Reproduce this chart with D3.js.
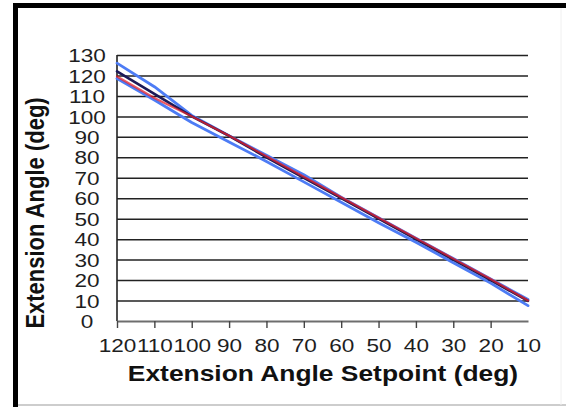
<!DOCTYPE html>
<html><head><meta charset="utf-8">
<script src="https://cdn.jsdelivr.net/npm/d3@7"></script>
<style>
html,body{margin:0;padding:0;background:#fff;}
svg{display:block;font-family:"Liberation Sans",Arial,sans-serif;}
</style></head>
<body>
<svg id="chart" width="566" height="407"></svg>
<script>
// ---- data ----
const setpoints = [120,110,100,90,80,70,60,50,40,30,20,10];
const meanAngle  = [122,111,100,90.5,80,70,60,50,40,30,20,9.8];
const redAngle   = [119.5,109,100,90.5,80.5,70.5,60.5,50.5,40.5,30.5,20.5,10];
const upperAngle = [126,114.5,100.5,90.5,81,71.5,60.5,50.5,40.5,30.5,20.5,10.5];
const lowerAngle = [118.5,108,97,87.5,78,68,58,48,38.5,28.5,18.5,7.5];
const yTicks = [0,10,20,30,40,50,60,70,80,90,100,110,120,130];
const xLabel = "Extension Angle Setpoint (deg)";
const yLabel = "Extension Angle (deg)";

const svg = d3.select("#chart");
const W = 566, H = 407;
const stretch = 1.22;
const tickFont = 18.5;

// frame
svg.append("rect").attr("x",0).attr("y",0).attr("width",W).attr("height",H).attr("fill","#fff");
svg.append("line").attr("x1",18).attr("x2",W).attr("y1",405).attr("y2",405).attr("stroke","#bdbdbd").attr("stroke-width",1.5);
svg.append("line").attr("x1",561).attr("x2",561).attr("y1",8).attr("y2",405).attr("stroke","#f0f0f0").attr("stroke-width",1);
svg.append("rect").attr("x",13).attr("y",3).attr("width",5).attr("height",H-3).attr("fill","#000");
svg.append("rect").attr("x",13).attr("y",3).attr("width",W-13).attr("height",5).attr("fill","#000");

const x = d3.scaleLinear().domain([120,10]).range([117,528]);
const y = d3.scaleLinear().domain([0,130]).range([321,55]);

// gridlines + y axis
const gy = svg.append("g").attr("transform","translate(117,0)")
  .call(d3.axisLeft(y).tickValues(yTicks).tickSize(-(528-117)).tickFormat(d3.format("d")));
gy.select(".domain").remove();
gy.selectAll(".tick line").attr("stroke","#222").attr("stroke-width",1.5)
  .filter(d=>d===0).remove();
gy.selectAll(".tick text").attr("x",-30/stretch).attr("dy","0.36em")
  .attr("text-anchor","middle").attr("transform",`scale(${stretch},1)`)
  .attr("font-size",tickFont).attr("fill","#1e1e1e").attr("font-family","Liberation Sans, Arial, sans-serif");
svg.append("line").attr("x1",117).attr("x2",117).attr("y1",55).attr("y2",321)
  .attr("stroke","#222").attr("stroke-width",1.6);

// x axis
const gx = svg.append("g").attr("transform","translate(0,321)")
  .call(d3.axisBottom(x).tickValues(setpoints).tickSize(7).tickSizeOuter(0).tickFormat(d3.format("d")));
gx.select(".domain").attr("stroke","#6e6e6e").attr("stroke-width",2.2);
gx.selectAll(".tick line").attr("stroke","#444").attr("stroke-width",1.4)
  .filter(d=>d===10).remove();
gx.selectAll(".tick text").attr("y",31).attr("dy",0).attr("transform",`scale(${stretch},1)`)
  .attr("font-size",tickFont).attr("fill","#1e1e1e").attr("font-family","Liberation Sans, Arial, sans-serif");

// lines
const mk = vals => d3.line().x((d,i)=>x(setpoints[i])).y(d=>y(d))(vals);
const series = [
  {v:upperAngle, c:"#4d7cf5", w:2.8},
  {v:lowerAngle, c:"#4d7cf5", w:2.8},
  {v:meanAngle,  c:"#1c1a58", w:2.6},
  {v:redAngle,   c:"#e3222c", w:2.2, o:0.75}
];
series.forEach(s=>{
  svg.append("path").attr("d",mk(s.v)).attr("fill","none")
    .attr("stroke",s.c).attr("stroke-width",s.w).attr("stroke-opacity",s.o||1)
    .attr("stroke-linejoin","round").attr("stroke-linecap","round");
});

// titles
svg.append("text").attr("transform",`translate(323,381) scale(1.2,1)`)
  .attr("text-anchor","middle").attr("font-size",22).attr("font-weight","bold").attr("fill","#111")
  .text(xLabel);
svg.append("text").attr("transform",`translate(44,213) scale(1.2,1) rotate(-90)`)
  .attr("text-anchor","middle").attr("font-size",22).attr("font-weight","bold").attr("fill","#111")
  .text(yLabel);
</script>
</body></html>
